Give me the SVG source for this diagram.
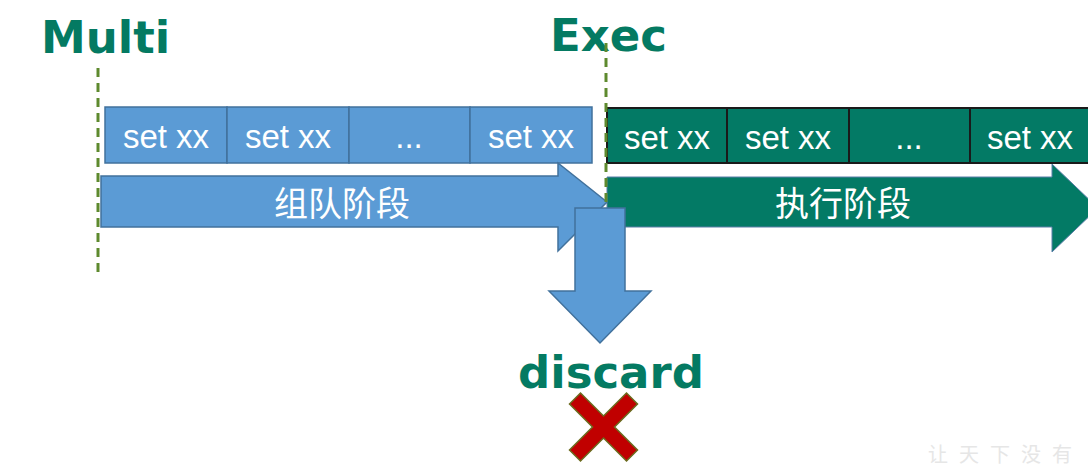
<svg xmlns="http://www.w3.org/2000/svg" width="1088" height="468" viewBox="0 0 1088 468">
<style>
.lbl{font-family:"DejaVu Sans",Verdana,sans-serif;font-weight:bold;font-size:45px;fill:#047A62}
.cmd{font-family:"Liberation Sans",Arial,sans-serif;font-size:33px;fill:#ffffff;text-anchor:middle}
.zh{font-family:"Liberation Sans","Noto Sans CJK SC",sans-serif;font-size:34px;fill:#ffffff;text-anchor:middle}
.bbox{fill:#5B9BD5;stroke:#41719C;stroke-width:1.5}
.gbox{fill:#037A65;stroke:#1a1a1a;stroke-width:2}
.dash{stroke:#5E8A2E;stroke-width:3;stroke-dasharray:9 6;fill:none}
</style>
<rect width="1088" height="468" fill="#ffffff"/>
<g id="multi"><text class="lbl" x="41" y="53">Multi</text></g>
<g id="exec"><text class="lbl" x="550" y="51">Exec</text></g>
<g id="queue-boxes">
<rect class="bbox" x="105" y="107" width="122" height="56"/>
<rect class="bbox" x="227" y="107" width="122" height="56"/>
<rect class="bbox" x="349" y="107" width="121" height="56"/>
<rect class="bbox" x="470" y="107" width="122" height="56"/>
<text class="cmd" x="166" y="148">set xx</text>
<text class="cmd" x="288" y="148">set xx</text>
<text class="cmd" x="409" y="148">...</text>
<text class="cmd" x="531" y="148">set xx</text>
</g>
<g id="exec-boxes">
<rect class="gbox" x="607" y="108" width="120" height="55"/>
<rect class="gbox" x="727" y="108" width="122" height="55"/>
<rect class="gbox" x="849" y="108" width="121" height="55"/>
<rect class="gbox" x="970" y="108" width="125" height="55"/>
<text class="cmd" x="667" y="149">set xx</text>
<text class="cmd" x="788" y="149">set xx</text>
<text class="cmd" x="909" y="149">...</text>
<text class="cmd" x="1030" y="149">set xx</text>
</g>
<g id="exec-phase">
<polygon points="607,177 1052,177 1052,164 1098,208 1052,252 1052,227 607,227" fill="#037A65" stroke="#5B7FA8" stroke-width="1"/>
<text class="zh" x="843" y="216">执行阶段</text>
</g>
<g id="queue-phase">
<polygon points="101,176 558,176 558,163 607,202 558,251 558,227 101,227" fill="#5B9BD5" stroke="#41719C" stroke-width="1.5"/>
<text class="zh" x="342" y="216">组队阶段</text>
</g>
<g id="connectors">
<line class="dash" x1="98" y1="68" x2="98" y2="278"/>
<line class="dash" x1="606" y1="43" x2="606" y2="205"/>
<polygon points="575,208 625,208 625,291 651,291 600,343 549,291 575,291" fill="#5B9BD5" stroke="#41719C" stroke-width="1.5"/>
</g>
<g id="discard">
<text class="lbl" x="518" y="388">discard</text>
<polygon transform="translate(603.5,427)" points="-34,-23 -23,-34 0,-11 23,-34 34,-23 11,0 34,23 23,34 0,11 -23,34 -34,23 -11,0" fill="#C00000" stroke="#6B6B1E" stroke-width="1.5"/>
</g>
<g id="watermark"><text x="928" y="462" font-family="'Noto Sans CJK SC',sans-serif" font-size="20" fill="#e6e6e6" letter-spacing="11">让天下没有</text></g>
</svg>
